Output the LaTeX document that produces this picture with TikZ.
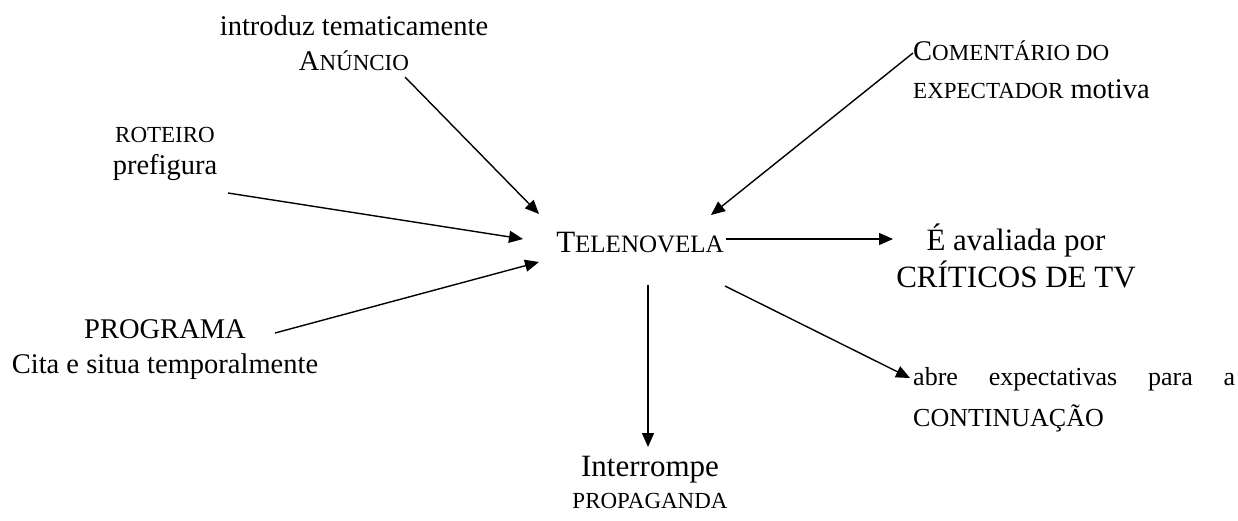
\documentclass[tikz,border=0pt]{standalone}
\usepackage{fontspec}
\setmainfont{Liberation Serif}
\usetikzlibrary{arrows.meta}
\newcommand\szS{\fontsize{23}{\baselineskip}\selectfont}
\newcommand\szNi{\fontsize{28.5}{\baselineskip}\selectfont}
\newcommand\szLi{\fontsize{31}{\baselineskip}\selectfont}
\newcommand\SCap[2]{{\szNi#1}{\szS#2}}
\begin{document}
\begin{tikzpicture}[x=1pt,y=-1pt,
  lbl/.style={inner sep=0pt, align=center},
  arr/.style={line width=1.4pt, -{Triangle[length=14pt,width=12pt]}}]
\useasboundingbox (0,0) rectangle (1238,520);

\node[lbl, font=\fontsize{28.5}{35}\selectfont] (anuncio) at (354,43) {introduz tematicamente\\\SCap{A}{NÚNCIO}};
\node[lbl, align=left, anchor=west, font=\fontsize{28.5}{38}\selectfont] (coment) at (913,70) {\SCap{C}{OMENTÁRIO DO}\\{\szS EXPECTADOR} motiva};
\node[lbl, font=\fontsize{28.5}{32}\selectfont] (roteiro) at (165,154) {{\szS ROTEIRO}\\prefigura};
\node[lbl, font=\fontsize{28.5}{35}\selectfont] (programa) at (165,350) {PROGRAMA\\Cita e situa temporalmente};
\node[lbl, font=\fontsize{31}{35}\selectfont] (tele) at (640,243) {{\fontsize{31}{35}\selectfont T}{\fontsize{25}{35}\selectfont ELENOVELA}};
\node[lbl, font=\fontsize{31}{37}\selectfont] (aval) at (1016,256) {É avaliada por\\CRÍTICOS DE TV};
\node[lbl, align=left, anchor=west, font=\fontsize{26}{41}\selectfont] (abre) at (913,400) {\makebox[322pt][s]{abre expectativas para a}\\CONTINUAÇÃO};
\node[lbl, font=\fontsize{28.5}{32}\selectfont] (interr) at (650,482) {{\szLi Interrompe}\\{\szS PROPAGANDA}};

\coordinate (aS) at (405,77);   \coordinate (aE) at (539,214);
\coordinate (cS) at (913,53);   \coordinate (cE) at (711,215);
\coordinate (rS) at (228,193);  \coordinate (rE) at (523,239);
\coordinate (pS) at (275,333);  \coordinate (pE) at (539,262);
\coordinate (tR) at (726,239);  \coordinate (vE) at (893,239);
\coordinate (tB) at (648,285);  \coordinate (iE) at (648,447);
\coordinate (tD) at (725,286);  \coordinate (bE) at (910,378);

\draw[arr] (aS) -- (aE);
\draw[arr] (cS) -- (cE);
\draw[arr] (rS) -- (rE);
\draw[arr] (pS) -- (pE);
\draw[arr] (tR) -- (vE);
\draw[arr] (tB) -- (iE);
\draw[arr] (tD) -- (bE);
\end{tikzpicture}
\end{document}
